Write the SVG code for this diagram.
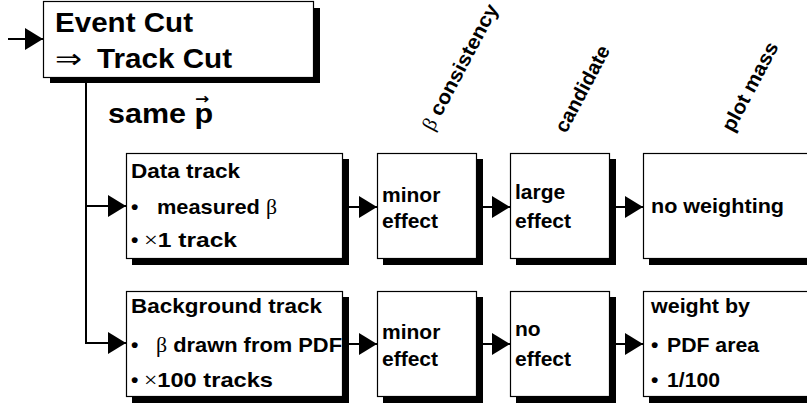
<svg xmlns="http://www.w3.org/2000/svg" width="807" height="405" viewBox="0 0 807 405">
<defs>
<marker id="ah" markerWidth="18" markerHeight="22" refX="18" refY="11" orient="auto" markerUnits="userSpaceOnUse"><path d="M0,0 L18,11 L0,22 Z" fill="#000"/></marker>
</defs>
<style>
.box{fill:#fff;stroke:#000;stroke-width:1.2}
.sh{fill:#000}
.t{font-family:"Liberation Sans",Arial,sans-serif;font-weight:bold;fill:#000}
.big{font-size:27px}
.m{font-size:21px}
.r{font-size:20px}
.sym{font-family:"Liberation Serif","DejaVu Serif",serif;font-weight:normal}
.dj{font-family:"DejaVu Sans",sans-serif;font-weight:normal}
.arr{font-family:"DejaVu Sans",sans-serif;font-size:15px;font-weight:bold}
.c{fill:none;stroke:#000;stroke-width:2}
</style>
<rect width="807" height="405" fill="#fff"/>

<g id="connectors">
<path class="c" d="M8,39 H43" marker-end="url(#ah)"/>
<path class="c" d="M86,83 V343 H126" marker-end="url(#ah)"/>
<path class="c" d="M86,206 H126" marker-end="url(#ah)"/>
<path class="c" d="M349,207 H377" marker-end="url(#ah)"/>
<path class="c" d="M483,207 H510" marker-end="url(#ah)"/>
<path class="c" d="M616,207 H643" marker-end="url(#ah)"/>
<path class="c" d="M349,344 H377" marker-end="url(#ah)"/>
<path class="c" d="M483,344 H510" marker-end="url(#ah)"/>
<path class="c" d="M616,344 H643" marker-end="url(#ah)"/>
</g>

<g id="event-cut">
<rect class="sh" x="50" y="8" width="270" height="75"/>
<rect class="box" x="43.5" y="1.5" width="270" height="76"/>
<text class="t big" x="55" y="32" textLength="138" lengthAdjust="spacingAndGlyphs">Event Cut</text>
<text class="t big" y="68"><tspan class="dj" x="55" textLength="27" lengthAdjust="spacingAndGlyphs">⇒</tspan><tspan x="97" textLength="135" lengthAdjust="spacingAndGlyphs">Track Cut</tspan></text>
</g>

<g id="same-p">
<text class="t big" transform="translate(108,123) scale(1.13,1)" x="0" y="0">same p<tspan class="arr" dx="-16" dy="-19">→</tspan></text>
</g>

<g id="col-labels">
<text class="t r" transform="translate(433,132) rotate(-62)" textLength="140" lengthAdjust="spacingAndGlyphs"><tspan class="sym">β</tspan> consistency</text>
<text class="t r" transform="translate(566,134) rotate(-62)" textLength="95" lengthAdjust="spacingAndGlyphs">candidate</text>
<text class="t r" transform="translate(733,133) rotate(-62)" textLength="98" lengthAdjust="spacingAndGlyphs">plot mass</text>
</g>

<g id="data-track">
<rect class="sh" x="132" y="159" width="217" height="106"/>
<rect class="box" x="126.5" y="153.5" width="216" height="105"/>
<text class="t m" x="131" y="178" textLength="109" lengthAdjust="spacingAndGlyphs">Data track</text>
<text class="t m" y="214"><tspan x="131">•</tspan><tspan x="157" textLength="120" lengthAdjust="spacingAndGlyphs">measured <tspan class="sym">β</tspan></tspan></text>
<text class="t m" y="247"><tspan x="131">•</tspan><tspan x="144" textLength="93" lengthAdjust="spacingAndGlyphs"><tspan class="sym">×</tspan>1 track</tspan></text>
</g>

<g id="bg-track">
<rect class="sh" x="132" y="297" width="217" height="106"/>
<rect class="box" x="126.5" y="291.5" width="216" height="105"/>
<text class="t m" x="131" y="313" textLength="191" lengthAdjust="spacingAndGlyphs">Background track</text>
<text class="t m" y="352"><tspan x="131">•</tspan><tspan x="156" textLength="186" lengthAdjust="spacingAndGlyphs"><tspan class="sym">β</tspan> drawn from PDF</tspan></text>
<text class="t m" y="387"><tspan x="131">•</tspan><tspan x="144" textLength="129" lengthAdjust="spacingAndGlyphs"><tspan class="sym">×</tspan>100 tracks</tspan></text>
</g>

<g id="minor1">
<rect class="sh" x="383" y="159" width="100" height="106"/>
<rect class="box" x="377.5" y="153.5" width="99" height="105"/>
<text class="t m" x="382" y="202">minor</text>
<text class="t m" x="382" y="228">effect</text>
</g>

<g id="large1">
<rect class="sh" x="516" y="159" width="100" height="106"/>
<rect class="box" x="510.5" y="153.5" width="99" height="105"/>
<text class="t m" x="515" y="199">large</text>
<text class="t m" x="515" y="228">effect</text>
</g>

<g id="noweight">
<rect class="sh" x="649" y="159" width="200" height="106"/>
<rect class="box" x="643.5" y="153.5" width="200" height="105"/>
<text class="t m" x="651" y="213" textLength="133" lengthAdjust="spacingAndGlyphs">no weighting</text>
</g>

<g id="minor2">
<rect class="sh" x="383" y="297" width="100" height="106"/>
<rect class="box" x="377.5" y="291.5" width="99" height="105"/>
<text class="t m" x="382" y="339">minor</text>
<text class="t m" x="382" y="366">effect</text>
</g>

<g id="no2">
<rect class="sh" x="516" y="297" width="100" height="106"/>
<rect class="box" x="510.5" y="291.5" width="99" height="105"/>
<text class="t m" x="515" y="336">no</text>
<text class="t m" x="515" y="366">effect</text>
</g>

<g id="weightby">
<rect class="sh" x="649" y="297" width="200" height="106"/>
<rect class="box" x="643.5" y="291.5" width="200" height="105"/>
<text class="t m" x="651" y="313" textLength="99" lengthAdjust="spacingAndGlyphs">weight by</text>
<text class="t m" y="352"><tspan x="651">•</tspan><tspan x="667" textLength="92" lengthAdjust="spacingAndGlyphs">PDF area</tspan></text>
<text class="t m" y="387"><tspan x="651">•</tspan><tspan x="667" textLength="53" lengthAdjust="spacingAndGlyphs">1/100</tspan></text>
</g>
</svg>
